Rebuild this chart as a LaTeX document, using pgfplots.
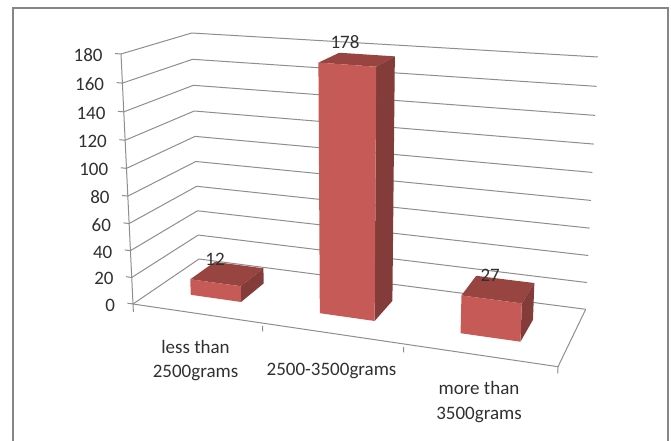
\documentclass[border=0pt]{standalone}
\usepackage{fontspec}
\setmainfont{Carlito}
\usepackage{pgfplots}
\pgfplotsset{compat=1.18}

\definecolor{framegray}{HTML}{868686}
\definecolor{gridgray}{HTML}{8E8E8E}
\definecolor{labelgray}{HTML}{303030}
\definecolor{barfront}{HTML}{C55A56}
\definecolor{bartop}{HTML}{984441}
\definecolor{barside}{HTML}{833C39}

% box projection: category position 0..3, depth 0..1, value 0..180 to picture position
\tikzset{declare function={
  warpu(\pa)=\pa/(1+0.14*(1-\pa));
  warpv(\pa)=\pa/(1+0.054*(1-\pa));
  fx(\pa,\pb,\pc)=133+425*\pa+66*\pb-38.3*\pa*\pb
    +\pc*(-12*(1-\pa)*(1-\pb)+12*\pa*(1-\pb)+12.3*\pa*\pb-7.3*(1-\pa)*\pb);
  fy(\pa,\pb,\pc)=304+62.7*\pa-45*\pb-12.4*\pa*\pb
    +\pc*(-250*(1-\pa)*(1-\pb)-278.7*\pa*(1-\pb)-252.3*\pa*\pb-226*(1-\pa)*\pb);
  sx(\pa,\pb,\pc)=fx(warpu(\pa/3),\pb,warpv(\pc/180));
  sy(\pa,\pb,\pc)=fy(warpu(\pa/3),\pb,warpv(\pc/180));
}}

\pgfplotsset{
  table/box/.style={row sep=\\,
    x expr={sx(\thisrow{u},\thisrow{d},\thisrow{v})},
    y expr={sy(\thisrow{u},\thisrow{d},\thisrow{v})}},
  gridline/.style={color=gridgray, line width=1pt, line join=round},
}
\tikzset{txt/.style={font=\fontsize{19}{24.5}\selectfont, text=labelgray, inner sep=0pt}}

% #1 category centre, #2 value, #3 #4 label shift
\newcommand{\barthreed}[4]{
  \addplot[fill=bartop, draw=none] table[row sep=\\,
    x expr={sx(\thisrow{u}+#1,\thisrow{d},#2)},
    y expr={sy(\thisrow{u}+#1,\thisrow{d},#2)}] {
    u d\\ -0.2 0.32\\ 0.2 0.32\\ 0.2 0.71\\ -0.2 0.71\\};
  \addplot[fill=barside, draw=none] table[row sep=\\,
    x expr={sx(0.2+#1,\thisrow{d},\thisrow{t}*#2)},
    y expr={sy(0.2+#1,\thisrow{d},\thisrow{t}*#2)}] {
    d t\\ 0.32 1\\ 0.71 1\\ 0.71 0\\ 0.32 0\\};
  \addplot[fill=barfront, draw=none] table[row sep=\\,
    x expr={sx(\thisrow{u}+#1,0.32,\thisrow{t}*#2)},
    y expr={sy(\thisrow{u}+#1,0.32,\thisrow{t}*#2)}] {
    u t\\ -0.2 1\\ 0.2 1\\ 0.2 0\\ -0.2 0\\};
  \addplot[only marks, mark=none, nodes near coords={#2},
    every node near coord/.append style={txt, anchor=center, xshift=#3pt, yshift=#4pt}]
    table[row sep=\\, x expr={sx(#1,0.515,#2)}, y expr={sy(#1,0.515,#2)}] {
    t\\ 1\\};
}

\begin{document}
\begin{tikzpicture}
\begin{axis}[
    scale only axis,
    width=671pt, height=441pt,
    xmin=0, xmax=671, ymin=0, ymax=441,
    y dir=reverse,
    hide axis,
  ]
  % keep the whole plot area as the page
  \path (rel axis cs:0,0) rectangle (rel axis cs:1,1);

  % outer frame, its bottom edge is cut off in the picture
  \addplot[color=framegray, line width=1.5pt] coordinates {(13,441) (13,8) (668,8) (668,441)};

  % grid lines along side wall and back wall, with tick and number
  \pgfplotsinvokeforeach{0,20,...,180}{
    \addplot[gridline] table[box] {
      u d v\\ -0.045 0 #1\\ 0 0 #1\\ 0 1 #1\\ 3 1 #1\\}
      node[pos=0, txt, anchor=east, xshift=-12pt, yshift=-2pt] {#1};
  }
  % value axis
  \addplot[gridline] table[box] {u d v\\ 0 0 0\\ 0 0 180\\};
  % floor front and right edge, category ticks
  \addplot[gridline] table[box] {u d v\\ 3 1 0\\ 3 0 0\\ 0 0 0\\ 0 0 -6\\};
  \addplot[gridline] table[box] {u d v\\ 1 0 -2\\ 1 0 -6\\};
  \addplot[gridline] table[box] {u d v\\ 2 0 -2\\ 2 0 -6\\};
  \addplot[gridline] table[box] {u d v\\ 3 0 0\\ 3 0 -4.5\\};

  \barthreed{0.5}{12}{-12}{15}
  \barthreed{1.5}{178}{-12}{18}
  \barthreed{2.5}{27}{-8}{14}

  \node[txt, align=center] at (axis cs:195.5,360.5) {less than\\2500grams};
  \node[txt, align=center] at (axis cs:331.5,371) {2500-3500grams};
  \node[txt, align=center] at (axis cs:479,402) {more than\\3500grams};
\end{axis}
\end{tikzpicture}
\end{document}
